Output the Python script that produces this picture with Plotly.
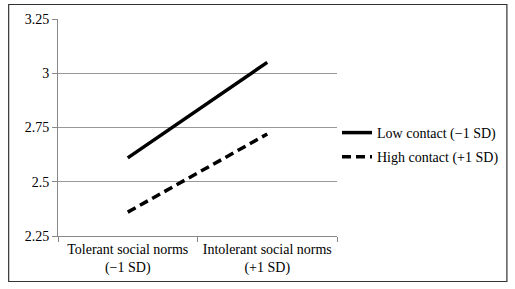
import plotly.graph_objects as go

categories = ["Tolerant social norms<br>(\u22121 SD)", "Intolerant social norms<br>(+1 SD)"]
low_contact = [2.61, 3.05]
high_contact = [2.36, 2.72]
series_names = ["Low contact (\u22121 SD)", "High contact (+1 SD)"]
y_ticks = [2.25, 2.5, 2.75, 3, 3.25]
y_tick_labels = ["2.25", "2.5", "2.75", "3", "3.25"]

FONT = "Liberation Serif"

fig = go.Figure()
fig.add_trace(go.Scatter(x=categories, y=low_contact, mode="lines", name=series_names[0],
                         legendgroup="a",
                         line=dict(color="black", width=3.5)))
fig.add_trace(go.Scatter(x=categories, y=high_contact, mode="lines", name=series_names[1],
                         legendgroup="b",
                         line=dict(color="black", width=3.5, dash="9px,5px")))

L, R, T, B = 58, 177, 19, 53
W, H = 515, 289
pw = W - L - R
ph = H - T - B

def px2paper_x(px):
    return (px - L) / pw

def px2paper_y(py):
    return (H - B - py) / ph

fig.add_shape(type="rect", xref="paper", yref="paper",
              x0=px2paper_x(8.5), x1=px2paper_x(508.5),
              y0=px2paper_y(281.5), y1=px2paper_y(4.5),
              line=dict(color="#333333", width=1.2), fillcolor="rgba(0,0,0,0)", layer="above")

fig.update_layout(
    width=W, height=H,
    margin=dict(l=L, r=R, t=T, b=B),
    paper_bgcolor="white", plot_bgcolor="white",
    font=dict(family=FONT, size=14, color="black"),
    showlegend=True,
    legend=dict(x=px2paper_x(337), y=px2paper_y(117), xanchor="left", yanchor="top",
                bgcolor="rgba(0,0,0,0)", font=dict(family=FONT, size=14),
                tracegroupgap=3, itemwidth=30),
    xaxis=dict(type="category", range=[-0.5, 1.5], showgrid=False,
               showline=True, linecolor="#888888", linewidth=1,
               ticks="outside", ticklen=5, tickcolor="#888888",
               tickson="boundaries", tickfont=dict(family=FONT, size=14)),
    yaxis=dict(range=[2.25, 3.25], tickvals=y_ticks, ticktext=y_tick_labels,
               showgrid=True, gridcolor="#999999", gridwidth=1,
               showline=True, linecolor="#888888", linewidth=1,
               ticks="outside", ticklen=5, tickcolor="#888888",
               zeroline=False, tickfont=dict(family=FONT, size=14)),
)

fig.write_html("out.html", config={"displayModeBar": False},
               post_script="document.body.style.margin='0';")
